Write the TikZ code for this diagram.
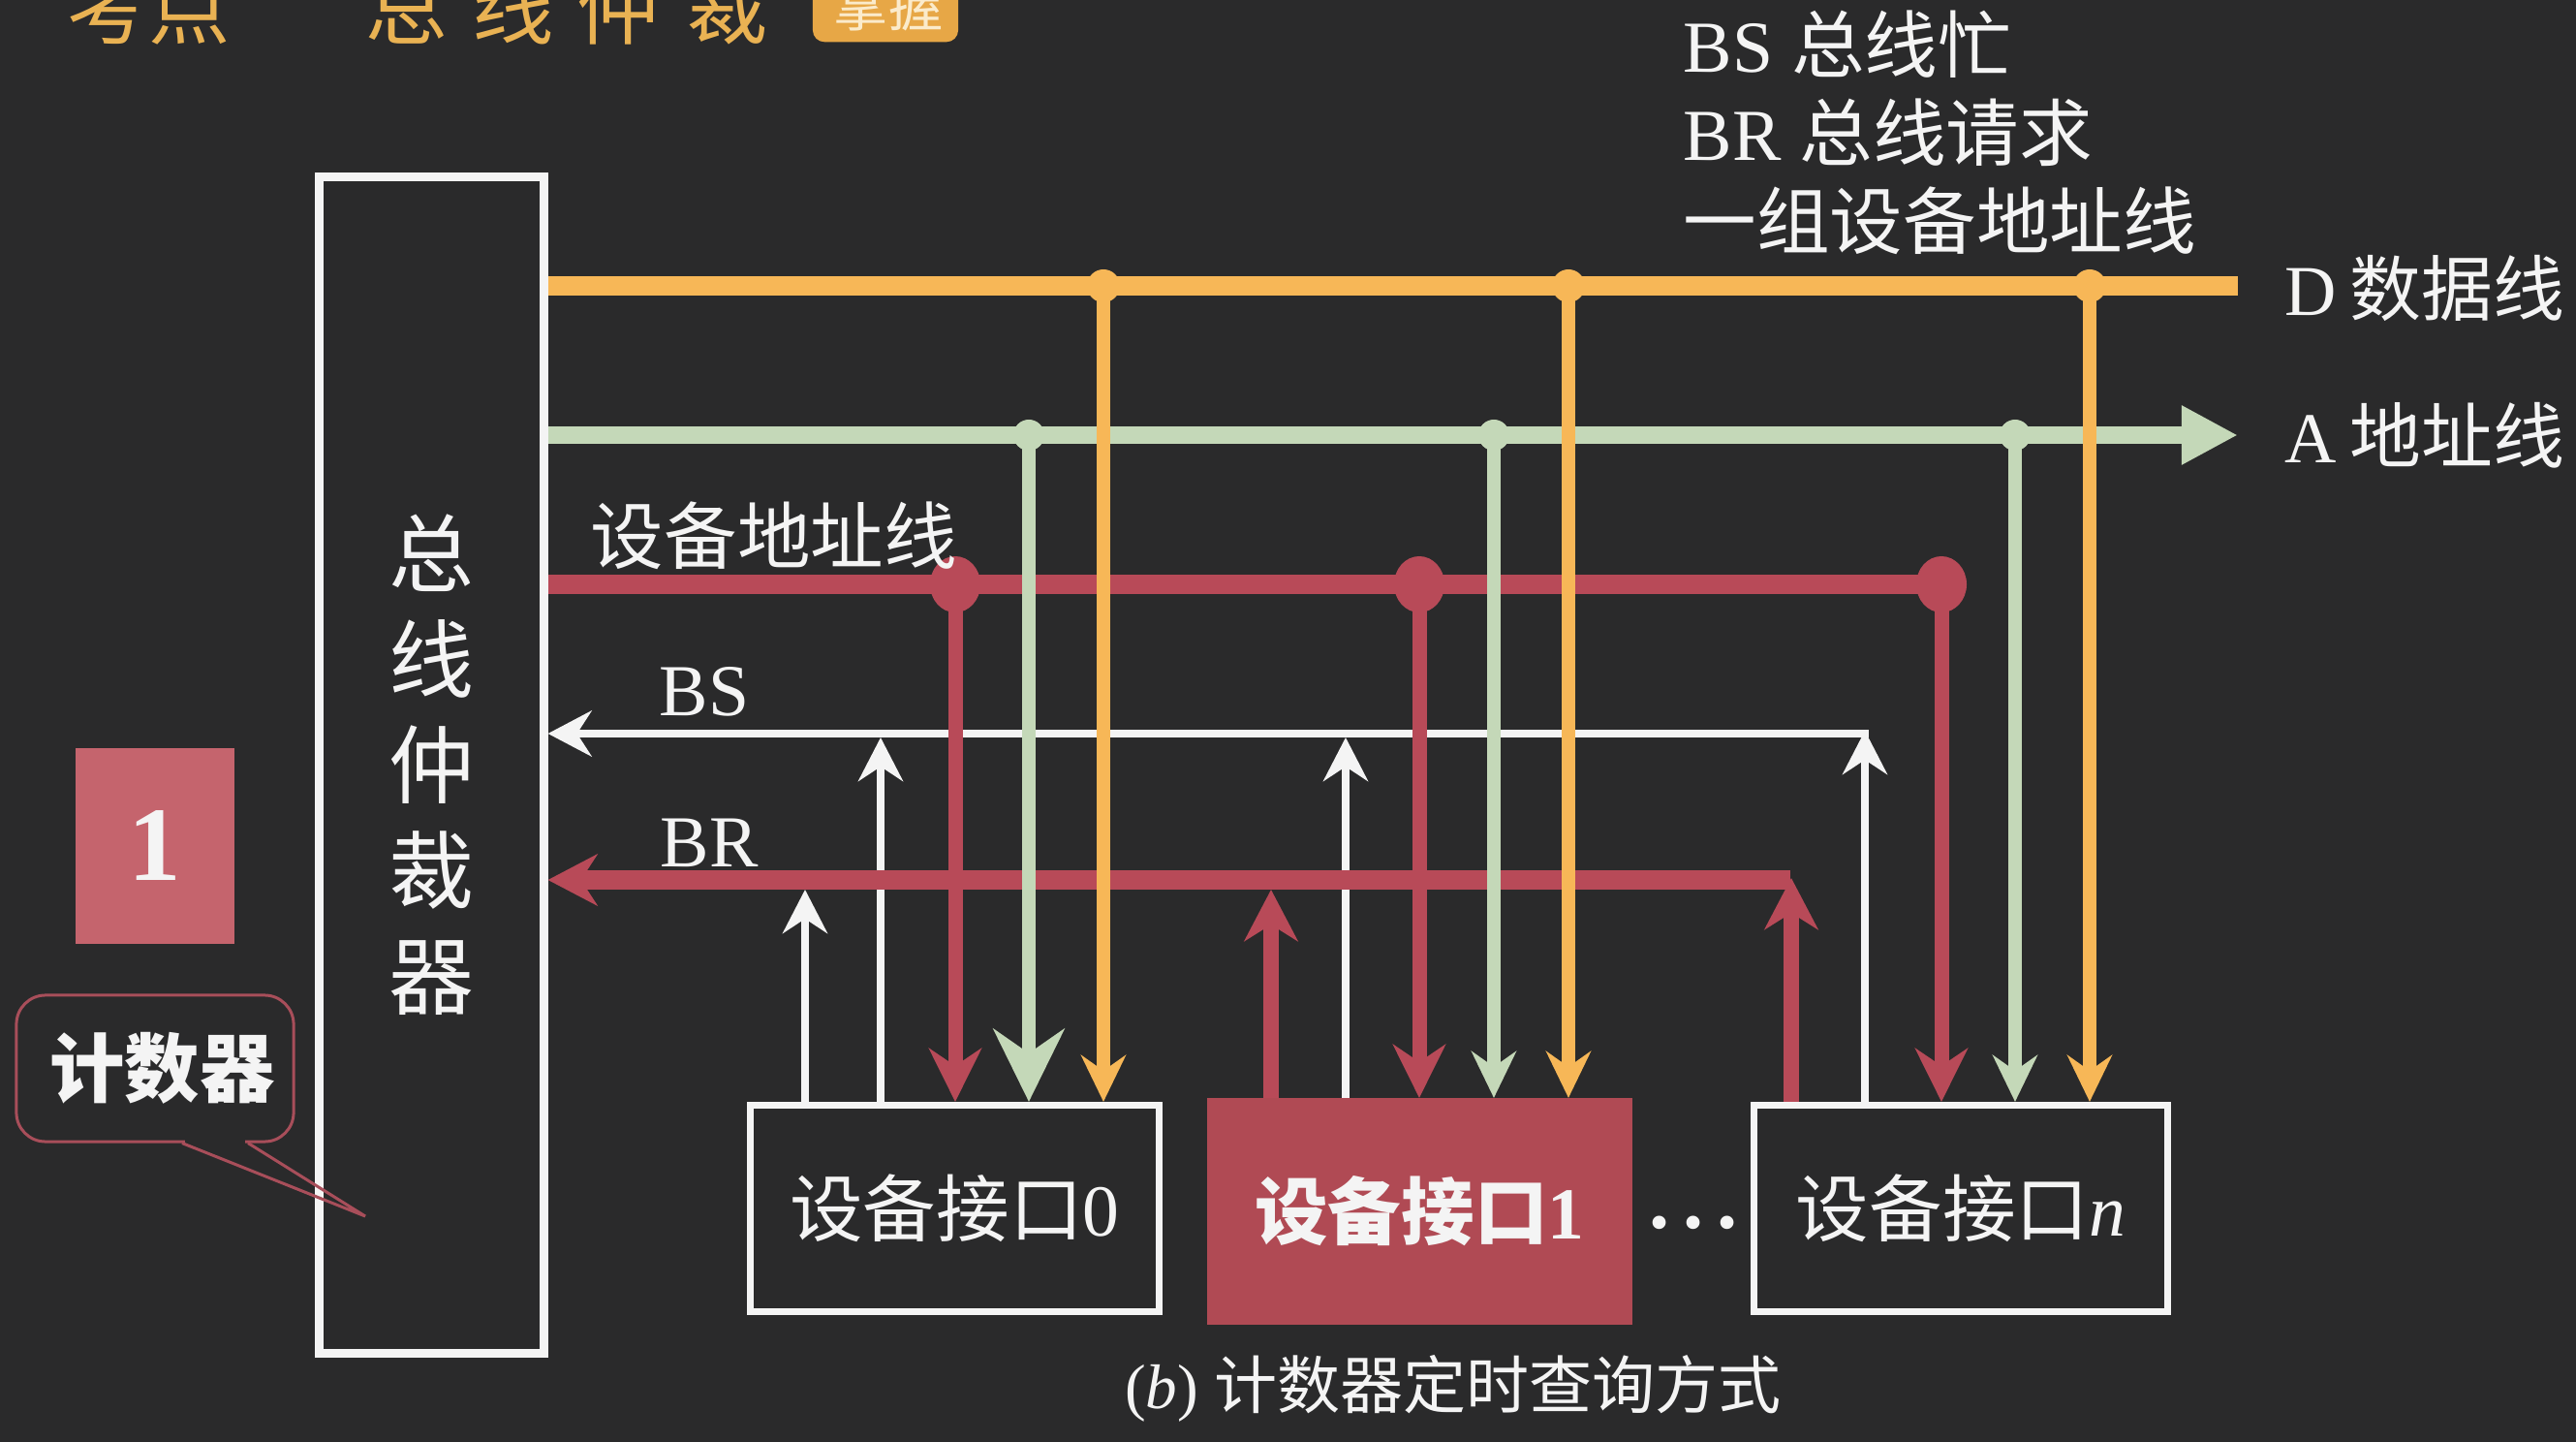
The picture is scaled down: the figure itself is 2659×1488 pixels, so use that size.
\documentclass[tikz,border=0pt]{standalone}
\usepackage{fontspec}
\setmainfont{Liberation Serif}
\newfontfamily\cjk{Noto Sans CJK SC}
\usetikzlibrary{arrows.meta}
\definecolor{bgcol}{HTML}{2A2A2B}
\definecolor{dcol}{HTML}{F7B757}
\definecolor{acol}{HTML}{C4D8B8}
\definecolor{rcol}{HTML}{B84A58}
\definecolor{wcol}{HTML}{F4F4F4}
\definecolor{devcol}{HTML}{B04A54}
\definecolor{sqcol}{HTML}{C5646D}
\definecolor{calcol}{HTML}{A84E5A}
\definecolor{titcol}{HTML}{E9B253}
\definecolor{tagcol}{HTML}{E7A746}
\definecolor{tagtxt}{HTML}{FBEBCB}
\tikzset{
  txt/.style={text=wcol, inner sep=0pt, font=\fontsize{21.5}{26}\selectfont},
  devbox/.style={draw=wcol, line width=0.7mm, inner sep=0pt, text=wcol,
    minimum width=4.22cm, minimum height=2.13cm, font=\fontsize{21.5}{26}\selectfont},
  titstyle/.style={text=titcol, inner sep=0pt, font=\cjk\fontsize{24}{24}\selectfont, anchor=base},
  dbus/.style={draw=dcol, line width=2mm},
  abus/.style={draw=acol, line width=1.8mm, -{Triangle[length=5.8mm,width=5.7mm]}},
  mbus/.style={draw=rcol, line width=2mm},
  sbus/.style={draw=wcol, line width=0.8mm, -{Stealth[length=4.5mm,width=4.7mm,inset=1.5mm]}},
  brbus/.style={draw=rcol, line width=1.9mm, -{Stealth[length=5.1mm,width=5.3mm,inset=1.7mm]}},
  wup/.style={draw=wcol, line width=0.8mm, -{Stealth[length=4.5mm,width=4.6mm,inset=1.5mm]}},
  rup/.style={draw=rcol, line width=1.6mm, -{Stealth[length=5.3mm,width=5.5mm,inset=1.7mm]}},
  rdown/.style={draw=rcol, line width=1.5mm, -{Stealth[length=5.5mm,width=5.4mm,inset=1.8mm]}},
  gdown/.style={draw=acol, line width=1.4mm, -{Stealth[length=4.8mm,width=4.6mm,inset=1.6mm]}},
  gbig/.style={draw=acol, line width=1.4mm, -{Stealth[length=7.5mm,width=7.3mm,inset=2.5mm]}},
  odown/.style={draw=dcol, line width=1.4mm, -{Stealth[length=4.8mm,width=4.6mm,inset=1.6mm]}},
  bubble/.style={draw=calcol, line width=0.3mm},
}
\begin{document}
\begin{tikzpicture}[x=0.01cm,y=-0.01cm]
\useasboundingbox (0,0) rectangle (2659,1488);
\fill[bgcol] (0,0) rectangle (2659,1488);

% title (cropped at top, as in the reference)
\node[titstyle] (t1) at (112,40) {考};
\node[titstyle] (t2) at (196,40) {点};
\node[titstyle] (t4) at (420,40) {总};
\node[titstyle] (t5) at (530,40) {线};
\node[titstyle] (t6) at (638,40) {仲};
\node[titstyle] (t7) at (751,40) {裁};
\node[fill=tagcol, rounded corners=1.2mm, minimum width=1.5cm, minimum height=0.9cm,
      inner sep=0pt, anchor=south] (tag) at (914,44) {};
\node[text=tagtxt, inner sep=0pt, font=\cjk\fontsize{16}{16}\selectfont, anchor=base] (tagt) at (917,28) {掌握};

% arbiter
\node[draw=wcol, line width=0.9mm, minimum width=2.31cm, minimum height=12.13cm,
      inner sep=0pt, text=wcol, align=center, font=\cjk\fontsize{25}{31}\selectfont]
      (arb) at (445.5,789.5) {总\\线\\仲\\裁\\器};

% device interfaces
\node[devbox] (dev0) at (985.5,1247) {{\cjk 设备接口}0};
\node[fill=devcol, minimum width=4.39cm, minimum height=2.34cm, inner sep=0pt, outer sep=0pt,
      text=wcol, font=\fontsize{21.5}{26}\selectfont\bfseries] (dev1) at (1465.5,1250) {{\cjk\bfseries 设备接口}1};
\node[devbox, minimum width=4.27cm] (devn) at (2024,1247) {{\cjk 设备接口}\textit{n}};
\node[text=wcol, inner sep=0pt, font=\fontsize{24}{24}\selectfont\bfseries] (ellip) at (1748,1262) {.\,.\,.};

% junction coordinates
\coordinate (Dend) at (2310,295);
\coordinate (Aend) at (2310,449);
\coordinate (bsR) at (1929,757);
\coordinate (brR) at (1848,908);
\coordinate (w0r) at (831,918);
\coordinate (w0s) at (909,761);
\coordinate (m0) at (986,603);
\coordinate (a0) at (1062,449);
\coordinate (d0) at (1139,295);
\coordinate (r1r) at (1312,918);
\coordinate (w1s) at (1389,761);
\coordinate (m1) at (1465,603);
\coordinate (a1) at (1542,449);
\coordinate (d1) at (1619,295);
\coordinate (rnr) at (1849,906);
\coordinate (wns) at (1925,754);
\coordinate (mn) at (2004,603);
\coordinate (an) at (2080,449);
\coordinate (dn) at (2157,295);

% white request/busy lines (below buses)
\draw[wup] (w0r |- dev0.north) -- (w0r);
\draw[wup] (w0s |- dev0.north) -- (w0s);
\draw[wup] (w1s |- dev1.north) -- (w1s);
\draw[wup] (wns |- devn.north) -- (wns);

% buses
\draw[dbus] (arb.east |- Dend) -- (Dend);
\draw[abus] (arb.east |- Aend) -- (Aend);
\draw[mbus] (arb.east |- mn) -- (mn);
\draw[sbus] (bsR) -- (arb.east |- bsR);
\draw[brbus] (brR) -- (arb.east |- brR);

% BR request arrows
\draw[rup] (r1r |- dev1.north) -- (r1r);
\draw[rup] (rnr |- devn.north) -- (rnr);

% drops to devices
\draw[rdown] (m0) -- (m0 |- dev0.north);
\draw[gbig] (a0) -- (a0 |- dev0.north);
\draw[odown] (d0) -- (d0 |- dev0.north);
\draw[rdown] (m1) -- (m1 |- dev1.north);
\draw[gdown] (a1) -- (a1 |- dev1.north);
\draw[odown] (d1) -- (d1 |- dev1.north);
\draw[rdown] (mn) -- (mn |- devn.north);
\draw[gdown] (an) -- (an |- devn.north);
\draw[odown] (dn) -- (dn |- devn.north);

% junction dots
\foreach \p in {d0,d1,dn} \fill[dcol] (\p) circle[radius=1.7mm];
\foreach \p in {a0,a1,an} \fill[acol] (\p) circle[radius=1.6mm];
\foreach \p in {m0,m1,mn} \fill[rcol] (\p) ellipse[x radius=2.6mm, y radius=2.9mm];

% labels
\node[txt, anchor=base west] (legBS) at (1737,75) {BS {\cjk 总线忙}};
\node[txt, anchor=base west] (legBR) at (1737,166) {BR {\cjk 总线请求}};
\node[txt, anchor=base west] (legAd) at (1737,257) {\cjk 一组设备地址线};
\node[txt, anchor=west, font=\fontsize{21}{25}\selectfont] (labD) at (2358,297) {D\hspace{0.18em}{\cjk 数据线}};
\node[txt, anchor=west, font=\fontsize{21}{25}\selectfont] (labA) at (2358,449) {A\hspace{0.18em}{\cjk 地址线}};
\node[txt] (labM) at (799,553) {\cjk 设备地址线};
\node[txt] (labBS) at (727,714) {BS};
\node[txt] (labBR) at (732,870) {BR};
\node[txt, font=\fontsize{18.5}{22}\selectfont] (cap) at (1500,1433) {(\textit{b}) {\cjk 计数器定时查询方式}};

% left side: number and callout
\node[fill=sqcol, minimum width=1.64cm, minimum height=2.01cm, inner sep=0pt, text=wcol,
      font=\fontsize{31}{31}\selectfont\bfseries] (num) at (160,873) {1};
\node[bubble, rounded corners=3mm, minimum width=2.86cm, minimum height=1.51cm, inner sep=0pt,
      text=wcol, font=\cjk\bfseries\fontsize{22}{26}\selectfont] (cnt) at (160,1102.5) {\hspace{0.15cm}计数器};
\coordinate (ctip) at (377,1255);
\fill[bgcol] ([xshift=0.31cm,yshift=0.1cm]cnt.south) rectangle ([xshift=0.93cm,yshift=-0.1cm]cnt.south);
\draw[bubble] ([xshift=0.28cm]cnt.south) -- (ctip) -- ([xshift=0.96cm]cnt.south);
\end{tikzpicture}
\end{document}
